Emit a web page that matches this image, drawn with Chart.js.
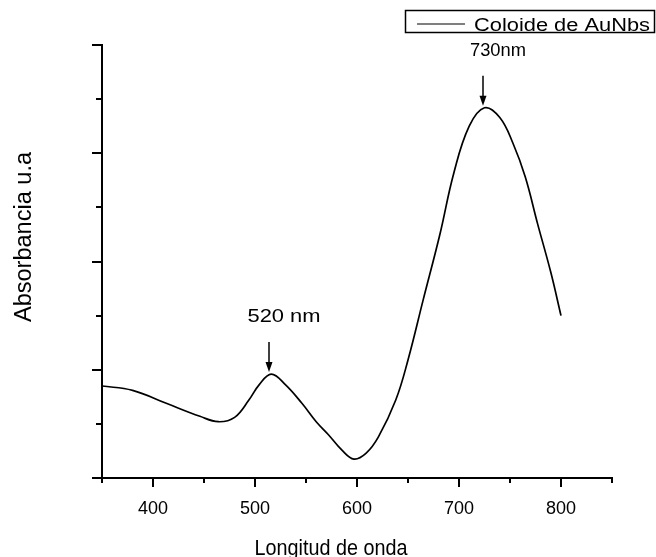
<!DOCTYPE html>
<html>
<head>
<meta charset="utf-8">
<script src="https://cdn.jsdelivr.net/npm/chart.js@4/dist/chart.umd.min.js"></script>
<style>
  html, body { margin: 0; padding: 0; background: #fff; }
  #chart { display: block; }
</style>
</head>
<body>
<canvas id="chart" width="656" height="557"></canvas>
<script>
// Espectro UV-Vis del coloide
const wavelengths = [350, 380, 413, 446, 464, 480, 494, 504, 516, 530, 546, 560, 572, 585, 597, 609, 621, 638, 650, 665, 681, 695, 710, 725, 740, 753, 765, 777, 790, 800];
const absorbance  = [0.85, 0.81, 0.69, 0.57, 0.52, 0.56, 0.72, 0.86, 0.96, 0.86, 0.69, 0.52, 0.40, 0.26, 0.175, 0.23, 0.38, 0.72, 1.09, 1.65, 2.24, 2.82, 3.25, 3.42, 3.33, 3.09, 2.78, 2.35, 1.90, 1.50];

// Picos marcados con flechas
const peakLabels = ['520 nm', '730nm'];
const peakNm     = [514, 724];
const peakAbs    = [0.97, 3.43];

const seriesName = 'Coloide de AuNbs';
const xTitle = 'Longitud de onda';
const yTitle = 'Absorbancia u.a';
const xTickLabels = [400, 500, 600, 700, 800];

const FONT = '"Liberation Sans", Arial, sans-serif';

// Texto ajustado a un ancho dado (la figura original está algo deformada)
function fitText(ctx, text, x, y, size, width, align) {
    ctx.save();
    ctx.font = size + 'px ' + FONT;
    const w = ctx.measureText(text).width;
    const sx = width / w;
    ctx.translate(x, y);
    ctx.scale(sx, 1);
    ctx.textAlign = align || 'center';
    ctx.textBaseline = 'alphabetic';
    ctx.fillText(text, 0, 0);
    ctx.restore();
}

// Marcas de los ejes (largas en los valores principales, cortas en los menores)
const axisTicks = {
    id: 'axisTicks',
    afterDraw(chart) {
        const ctx = chart.ctx;
        const area = chart.chartArea;
        const xs = chart.scales.x;
        const ys = chart.scales.y;
        ctx.save();
        ctx.strokeStyle = '#000';
        ctx.lineWidth = 2;
        xs.ticks.forEach(t => {
            const px = Math.round(xs.getPixelForValue(t.value));
            const len = t.value % 100 === 0 ? 9 : 5;
            ctx.beginPath();
            ctx.moveTo(px, area.bottom);
            ctx.lineTo(px, area.bottom + len);
            ctx.stroke();
        });
        ys.ticks.forEach(t => {
            const py = Math.round(ys.getPixelForValue(t.value));
            const len = Number.isInteger(t.value) ? 10 : 6;
            ctx.beginPath();
            ctx.moveTo(area.left, py);
            ctx.lineTo(area.left - len, py);
            ctx.stroke();
        });
        ctx.restore();
    }
};

// Flechas, etiquetas de los picos, leyenda y títulos de los ejes
const annotations = {
    id: 'annotations',
    afterDraw(chart) {
        const ctx = chart.ctx;
        const xs = chart.scales.x;
        const ys = chart.scales.y;
        ctx.save();
        ctx.fillStyle = '#000';
        ctx.strokeStyle = '#000';

        const labelWidths = [73, 56];
        peakNm.forEach((nm, i) => {
            const ax = Math.round(xs.getPixelForValue(nm));
            const tip = ys.getPixelForValue(peakAbs[i]) - 1;
            const tail = tip - 30;
            ctx.lineWidth = 1.5;
            ctx.beginPath();
            ctx.moveTo(ax, tail);
            ctx.lineTo(ax, tip - 8);
            ctx.stroke();
            ctx.beginPath();
            ctx.moveTo(ax - 3.5, tip - 10);
            ctx.lineTo(ax + 3.5, tip - 10);
            ctx.lineTo(ax, tip);
            ctx.closePath();
            ctx.fill();
            fitText(ctx, peakLabels[i], ax + 15, tail - 20, 19, labelWidths[i]);
        });

        // Leyenda
        ctx.lineWidth = 1.5;
        ctx.strokeRect(405.5, 10.5, 249, 22);
        ctx.lineWidth = 1.2;
        ctx.beginPath();
        ctx.moveTo(417, 24);
        ctx.lineTo(465, 24);
        ctx.stroke();
        fitText(ctx, seriesName, 474, 31, 18, 176, 'left');

        // Títulos
        fitText(ctx, xTitle, 331, 555, 22, 153);
        ctx.save();
        ctx.translate(31, 237);
        ctx.rotate(-Math.PI / 2);
        fitText(ctx, yTitle, 0, 0, 23, 170);
        ctx.restore();

        ctx.restore();
    }
};

const ctx = document.getElementById('chart').getContext('2d');
new Chart(ctx, {
    type: 'line',
    data: {
        datasets: [{
            label: seriesName,
            data: wavelengths.map((w, i) => ({ x: w, y: absorbance[i] })),
            borderColor: '#000',
            borderWidth: 1.7,
            pointRadius: 0,
            fill: false,
            tension: 0.4
        }]
    },
    options: {
        responsive: false,
        animation: false,
        layout: { padding: { left: 0, top: 45, right: 44, bottom: 0 } },
        plugins: {
            legend: { display: false },
            tooltip: { enabled: false }
        },
        scales: {
            x: {
                type: 'linear',
                min: 350,
                max: 850,
                grid: { display: false },
                border: { display: true, color: '#000', width: 2 },
                afterFit(scale) { scale.height = 79; },
                ticks: {
                    stepSize: 50,
                    autoSkip: false,
                    maxRotation: 0,
                    padding: 12,
                    color: '#000',
                    font: { family: FONT, size: 18 },
                    callback: v => xTickLabels.includes(v) ? String(v) : ''
                }
            },
            y: {
                type: 'linear',
                min: 0,
                max: 4,
                grid: { display: false },
                border: { display: true, color: '#000', width: 2 },
                afterFit(scale) { scale.width = 102; },
                ticks: { display: false, stepSize: 0.5 }
            }
        }
    },
    plugins: [axisTicks, annotations]
});
</script>
</body>
</html>
